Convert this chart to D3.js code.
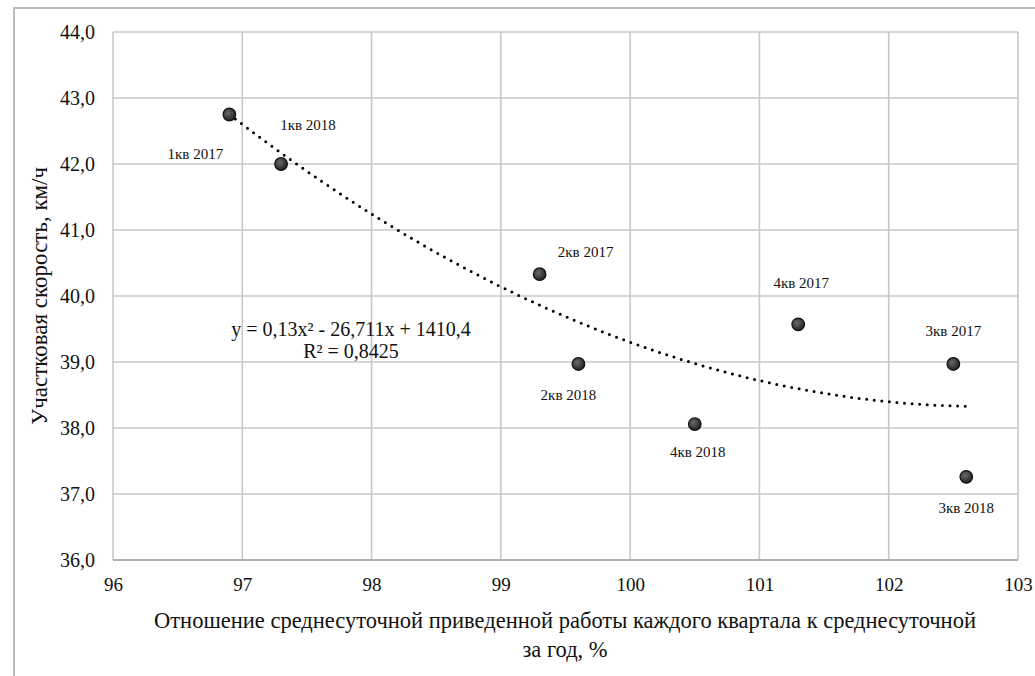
<!DOCTYPE html>
<html lang="ru">
<head>
<meta charset="utf-8">
<script src="https://cdn.jsdelivr.net/npm/d3@7"></script>
<style>
  html, body { margin: 0; padding: 0; background: #fff; }
  svg { display: block; }
</style>
</head>
<body>
<svg id="chart" width="1035" height="676"></svg>
<script>
// Quarterly data: ratio of average daily work to the yearly average (%) vs. section speed (km/h)
const quarters = ["1кв 2017", "1кв 2018", "2кв 2017", "2кв 2018", "4кв 2018", "4кв 2017", "3кв 2017", "3кв 2018"];
const ratio    = [96.9, 97.3, 99.3, 99.6, 100.5, 101.3, 102.5, 102.6];
const speed    = [42.75, 42.0, 40.33, 38.97, 38.06, 39.57, 38.97, 37.26];

// Polynomial trend (2nd order) as reported on the chart
const trendCoef = [0.13, -26.711, 1410.4];
const trendText = ["y = 0,13x² - 26,711x + 1410,4", "R² = 0,8425"];

const xTicks = [96, 97, 98, 99, 100, 101, 102, 103];
const yTicks = [36, 37, 38, 39, 40, 41, 42, 43, 44];

// Label placement relative to each point (px)
const labelShift = [[-34, 41], [27, -37], [46, -21], [-10, 33], [3, 30], [3, -40], [0, -31], [0, 33]];

const FONT = "'Liberation Serif', 'Times New Roman', serif";
const INK = "#111";

const svg = d3.select("#chart");
const m = { left: 113, right: 1018, top: 32, bottom: 560 };

const x = d3.scaleLinear().domain([96, 103]).range([m.left, m.right]);
const y = d3.scaleLinear().domain([36, 44]).range([m.bottom, m.top]);

// Outer frame (top and left edges visible)
svg.append("path")
  .attr("d", `M14,676 L14,8 L1035,8`)
  .attr("fill", "none").attr("stroke", "#bdbdbd").attr("stroke-width", 2);

// Grid
const grid = svg.append("g");
grid.selectAll("line.v").data(xTicks).join("line")
  .attr("x1", d => x(d)).attr("x2", d => x(d))
  .attr("y1", m.top).attr("y2", m.bottom)
  .attr("stroke", "#c8c8c8").attr("stroke-width", 1.6);
grid.selectAll("line.h").data(yTicks).join("line")
  .attr("x1", m.left).attr("x2", m.right)
  .attr("y1", d => y(d)).attr("y2", d => y(d))
  .attr("stroke", "#c8c8c8").attr("stroke-width", 1.6);
// Bottom axis line
svg.append("line")
  .attr("x1", m.left).attr("x2", m.right)
  .attr("y1", y(36)).attr("y2", y(36))
  .attr("stroke", "#b0b0b0").attr("stroke-width", 2);

// Axes (labels only)
const fmtY = d => d.toFixed(1).replace(".", ",");
const yAxis = svg.append("g")
  .attr("transform", `translate(${m.left},0)`)
  .call(d3.axisLeft(y).tickValues(yTicks).tickFormat(fmtY).tickSize(0).tickPadding(18));
yAxis.attr("font-family", null).attr("font-size", null);
yAxis.select(".domain").remove();
yAxis.selectAll("text").style("font-size", "20px").style("font-family", FONT).attr("fill", INK);

const xAxis = svg.append("g")
  .attr("transform", `translate(0,${m.bottom})`)
  .call(d3.axisBottom(x).tickValues(xTicks).tickFormat(d3.format("d")).tickSize(0).tickPadding(18));
xAxis.attr("font-family", null).attr("font-size", null);
xAxis.select(".domain").remove();
xAxis.selectAll("text").style("font-size", "19px").style("font-family", FONT).attr("fill", INK);

// Axis titles
svg.append("text")
  .attr("transform", `translate(42,${(m.top + m.bottom) / 2}) rotate(-90)`)
  .attr("text-anchor", "middle").attr("dominant-baseline", "middle")
  .style("font-family", FONT).style("font-size", "23px").attr("fill", INK)
  .text("Участковая скорость, км/ч");

const xTitle = svg.append("text")
  .attr("text-anchor", "middle")
  .style("font-family", FONT).style("font-size", "22.5px").attr("fill", INK);
xTitle.append("tspan").attr("x", 565).attr("y", 628)
  .text("Отношение среднесуточной приведенной работы каждого квартала к среднесуточной");
xTitle.append("tspan").attr("x", 565).attr("y", 657).text("за год, %");

// Trend line (dotted)
const trendFn = v => trendCoef[0] * v * v + trendCoef[1] * v + trendCoef[2];
const xs = d3.range(d3.min(ratio), d3.max(ratio) + 1e-9, 0.02);
svg.append("path")
  .datum(xs)
  .attr("d", d3.line().x(d => x(d)).y(d => y(trendFn(d))))
  .attr("fill", "none").attr("stroke", "#000").attr("stroke-width", 3)
  .attr("stroke-linecap", "round").attr("stroke-dasharray", "0,7.6");

// Point markers
const defs = svg.append("defs");
const grad = defs.append("radialGradient").attr("id", "dotFill")
  .attr("cx", "40%").attr("cy", "38%").attr("r", "65%");
grad.append("stop").attr("offset", "0%").attr("stop-color", "#6a6a6a");
grad.append("stop").attr("offset", "100%").attr("stop-color", "#1e1e1e");

const pts = ratio.map((r, i) => ({ r, s: speed[i], q: quarters[i], d: labelShift[i] }));
svg.append("g").selectAll("circle").data(pts).join("circle")
  .attr("cx", d => x(d.r)).attr("cy", d => y(d.s)).attr("r", 6.3)
  .attr("fill", "url(#dotFill)").attr("stroke", "#111").attr("stroke-width", 1.2);

// Point labels
svg.append("g").selectAll("text").data(pts).join("text")
  .attr("x", d => x(d.r) + d.d[0]).attr("y", d => y(d.s) + d.d[1])
  .attr("text-anchor", "middle").attr("dominant-baseline", "middle")
  .style("font-family", FONT).style("font-size", "15px").attr("fill", INK)
  .text(d => d.q);

// Trend equation
svg.append("g").selectAll("text").data(trendText).join("text")
  .attr("x", 351).attr("y", (d, i) => 331 + i * 22)
  .attr("text-anchor", "middle").attr("dominant-baseline", "middle")
  .style("font-family", FONT).style("font-size", "20px").attr("fill", INK)
  .text(d => d);
</script>
</body>
</html>
